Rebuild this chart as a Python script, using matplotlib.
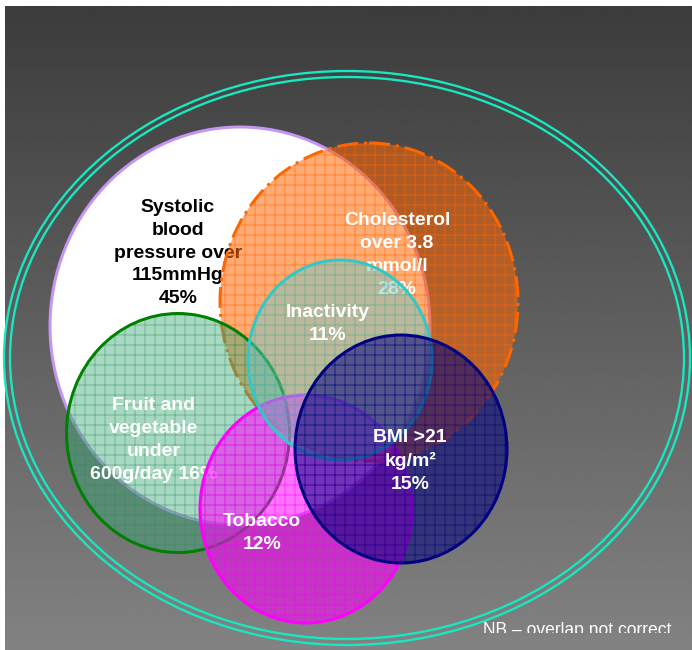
import numpy as np
import matplotlib
matplotlib.use('Agg')
import matplotlib.pyplot as plt
from matplotlib.patches import Ellipse
from matplotlib.transforms import Bbox, TransformedBbox

plt.rcParams['font.family'] = ['Liberation Sans', 'DejaVu Sans']
plt.rcParams['hatch.linewidth'] = 0.45

# Risk factors and their prevalence
factors = ['Systolic blood pressure over 115mmHg', 'Cholesterol over 3.8 mmol/l',
           'Fruit and vegetable under 600g/day', 'Tobacco', 'Inactivity', 'BMI >21 kg/m²']
percent = [45, 28, 16, 12, 11, 15]
labels = ['Systolic\nblood\npressure over\n115mmHg\n45%',
          'Cholesterol\nover 3.8\nmmol/l\n28%',
          'Fruit and\nvegetable\nunder\n600g/day 16%',
          'Tobacco\n12%',
          'Inactivity\n11%',
          'BMI >21\nkg/m²\n15%']
note = 'NB \u2013 overlap not correct'

# Layout of the circles (pixel coordinates, drawn bottom to top)
centers = [(240, 326), (369, 302), (178, 433), (306, 509), (340, 360), (401, 449)]
widths = [380, 298, 223, 212, 184, 212]
heights = [398, 318, 239, 228, 200, 228]
text_pos = [(178, 253), (397, 255), (154, 440), (262, 533), (328, 324), (410, 461)]
fills = [(1, 1, 1, 1), (1, 0.4, 0, 0.55), (0.24, 0.67, 0.47, 0.45),
         (1, 0, 1, 0.55), (0.4, 0.8, 0.8, 0.45), (0, 0, 0.5, 0.55)]
hatch_cols = [(1, 1, 1, 0), (1, 0.4, 0, 0.7), (0.2, 0.55, 0.38, 0.6),
              (1, 0, 1, 0.7), (0.25, 0.75, 0.75, 0.6), (0, 0, 0.45, 0.7)]
borders = ['#c495f2', '#ff6600', '#008000', '#ff00ff', '#33c8c8', '#000080']
styles = ['-', (0, (7, 2, 1, 2)), '-', '-', '-', '-']
text_cols = ['black', 'white', 'white', 'white', 'white', 'white']

fig = plt.figure(figsize=(692 / 120, 650 / 120), dpi=120)
ax = fig.add_axes([0, 0, 1, 1])
ax.set_xlim(0, 692)
ax.set_ylim(650, 0)
ax.axis('off')

# Grey gradient background
grad = np.linspace(0.235, 0.51, 256).reshape(-1, 1)
ax.imshow(grad, cmap='gray', vmin=0, vmax=1, extent=[5, 692, 650, 6], aspect='auto', zorder=0)

# Outer double ring
for w, h in [(686, 574), (674, 562)]:
    ax.add_patch(Ellipse((347, 358), w, h, fill=False, edgecolor='#16e8c2', lw=1.4, zorder=1))

for i in range(len(factors)):
    z = 2 + i * 3
    ax.add_patch(Ellipse(centers[i], widths[i], heights[i], facecolor=fills[i],
                         edgecolor=hatch_cols[i], hatch='++' if i else None, lw=0, zorder=z))
    ax.add_patch(Ellipse(centers[i], widths[i], heights[i], fill=False,
                         edgecolor=borders[i], lw=1.8, linestyle=styles[i], zorder=z + 1))
    ax.text(text_pos[i][0], text_pos[i][1], labels[i], color=text_cols[i], fontsize=11.6,
            fontweight='bold', ha='center', va='center', linespacing=1.45,
            multialignment='center', zorder=z + 2)

# Footnote, cut off at the bottom like the slide
nb = ax.text(483, 622, note, color='white', fontsize=10.5, ha='left', va='top', zorder=30)
nb.set_clip_box(TransformedBbox(Bbox([[0, 0], [692, 633]]), ax.transData))
nb.set_clip_on(True)

fig.savefig('out.png', dpi=120, facecolor='white')
